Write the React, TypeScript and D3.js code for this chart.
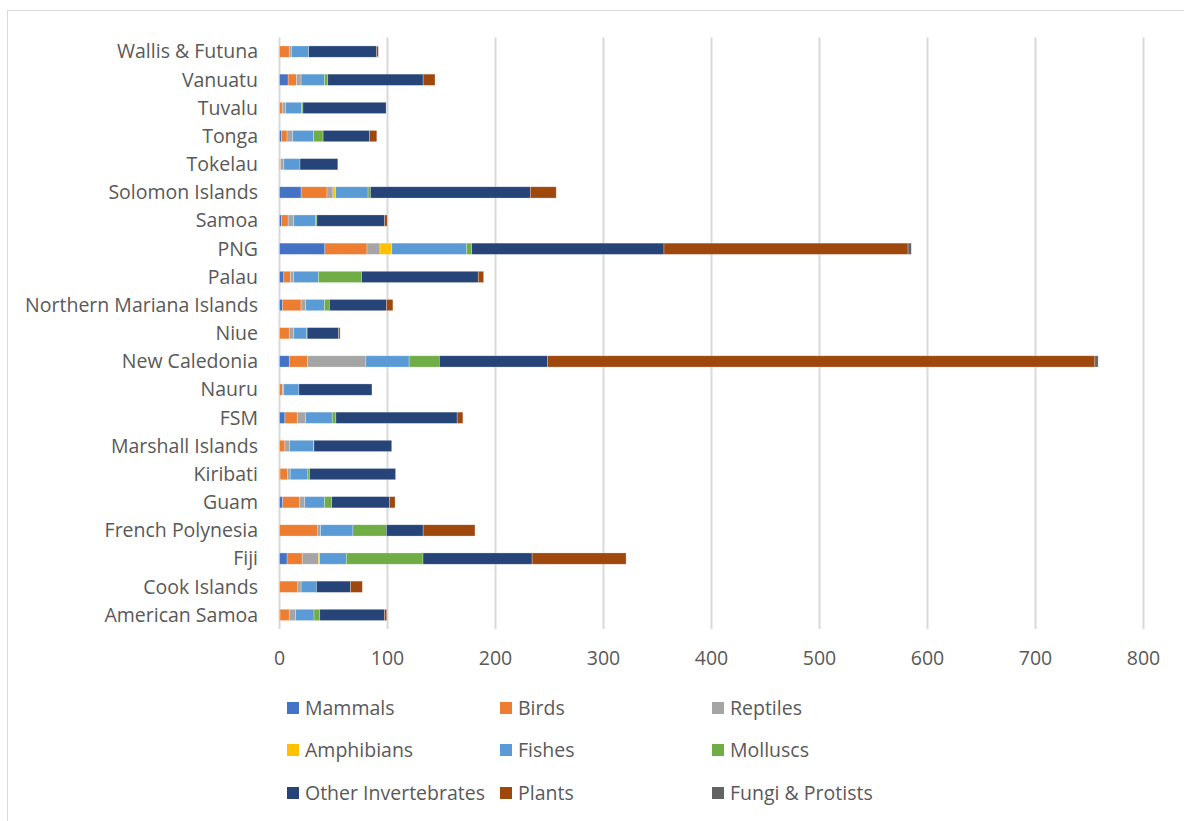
import { useEffect, useRef } from 'react'
import * as d3 from 'd3'

const COUNTRIES = [
  'Wallis & Futuna', 'Vanuatu', 'Tuvalu', 'Tonga', 'Tokelau', 'Solomon Islands', 'Samoa', 'PNG', 'Palau',
  'Northern Mariana Islands', 'Niue', 'New Caledonia', 'Nauru', 'FSM', 'Marshall Islands', 'Kiribati', 'Guam',
  'French Polynesia', 'Fiji', 'Cook Islands', 'American Samoa',
]

const SERIES = ['Mammals', 'Birds', 'Reptiles', 'Amphibians', 'Fishes', 'Molluscs', 'Other Invertebrates', 'Plants', 'Fungi & Protists']
const COLORS = ['#4472C4', '#ED7D31', '#A5A5A5', '#FFC000', '#5B9BD5', '#70AD47', '#264478', '#9E480E', '#636363']

// values per series, same order as COUNTRIES
const MAMMALS = [0, 8, 0, 2, 0, 20, 2, 42, 4, 2.7, 0, 9, 0, 5, 0, 0.5, 3, 0, 7, 0, 0.5]
const BIRDS = [9, 7.7, 2.5, 5, 1, 24, 6, 39, 6, 17.3, 9, 17, 2.7, 11.4, 5, 7, 15.4, 35, 14, 17, 8.5]
const REPTILES = [2, 4.3, 3, 5.3, 3, 5.5, 5.2, 12, 3, 4.3, 4.3, 54, 1.3, 7.7, 4.3, 2.4, 5, 3, 15, 3, 6]
const AMPHIBIANS = [0, 0, 0, 0, 0, 2.5, 0, 11, 0, 0, 0, 0, 0, 0, 0, 0, 0, 0, 1.2, 0, 0]
const FISHES = [16, 21.6, 15, 19.4, 15, 30, 20.4, 69, 23, 17.3, 12, 40, 14, 24.7, 22, 16.4, 18.2, 30, 24.7, 14.2, 17]
const MOLLUSCS = [0, 3.1, 1.2, 8.7, 0, 2.2, 1, 5, 40, 4.6, 0.3, 28, 0, 3.4, 0.6, 1.5, 6.8, 31, 71, 0, 5.3]
const OTHER_INV = [63, 88.3, 77, 42.9, 35, 148, 62.7, 178, 108, 52.8, 29.2, 100, 67.6, 112.3, 72, 79.7, 53.4, 34, 101, 31.5, 60]
const PLANTS = [1.5, 11, 0, 6.8, 0, 24, 2.4, 226, 5, 6, 1.3, 507, 0, 5.3, 0, 0, 5.2, 48, 87, 11, 2]
const FUNGI = [0, 0, 0, 0, 0, 0, 0, 3, 0, 0, 0, 3, 0, 0, 0, 0, 0, 0, 0, 0, 0]

const X_TICKS = [0, 100, 200, 300, 400, 500, 600, 700, 800]

const W = 1184
const H = 821
const FONT = '"Open Sans", "Liberation Sans", sans-serif'
const FS = 19.5

export default function App() {
  const svgRef = useRef<SVGSVGElement>(null)

  useEffect(() => {
    if (!svgRef.current) return
    const svg = d3.select(svgRef.current)
    svg.selectAll('*').remove()

    const left = 279.5, right = 1143.5, top = 37.5, bottom = 629
    const values = [MAMMALS, BIRDS, REPTILES, AMPHIBIANS, FISHES, MOLLUSCS, OTHER_INV, PLANTS, FUNGI]
    const rows = COUNTRIES.map((c, i) => {
      const r: Record<string, number | string> = { country: c }
      SERIES.forEach((s, k) => { r[s] = values[k][i] })
      return r
    })

    const x = d3.scaleLinear().domain([0, 800]).range([left, right])
    const y = d3.scaleBand<string>().domain(COUNTRIES).range([top, bottom]).paddingInner(0.6).paddingOuter(0.3)

    // outer border
    svg.append('rect').attr('x', 7.5).attr('y', 10.5).attr('width', W + 20).attr('height', H + 20)
      .attr('fill', 'white').attr('stroke', '#D9D9D9').attr('stroke-width', 1)

    // gridlines
    svg.append('g').selectAll('line').data(X_TICKS).join('line')
      .attr('x1', d => x(d)).attr('x2', d => x(d)).attr('y1', top).attr('y2', bottom)
      .attr('stroke', '#D9D9D9').attr('stroke-width', 2)

    const stack = d3.stack<Record<string, number | string>>().keys(SERIES)
      .value((d, key) => d[key] as number)
    const layers = stack(rows)

    svg.append('g').selectAll('g').data(layers).join('g')
      .attr('fill', (_, i) => COLORS[i])
      .selectAll('rect').data(d => d).join('rect')
      .attr('x', d => x(d[0]))
      .attr('width', d => Math.max(0, x(d[1]) - x(d[0])))
      .attr('y', d => y(d.data.country as string)!)
      .attr('height', y.bandwidth())
      .attr('stroke', 'white').attr('stroke-opacity', 0.45).attr('stroke-width', 0.6)

    // x tick labels
    svg.append('g').selectAll('text').data(X_TICKS).join('text')
      .attr('x', d => x(d)).attr('y', 665).attr('text-anchor', 'middle')
      .attr('font-family', FONT).attr('font-size', FS).attr('fill', '#595959')
      .text(d => d)

    // category labels
    svg.append('g').selectAll('text').data(COUNTRIES).join('text')
      .attr('x', 258).attr('y', d => y(d)! + y.bandwidth() / 2).attr('dy', '0.35em')
      .attr('text-anchor', 'end')
      .attr('font-family', FONT).attr('font-size', FS).attr('fill', '#595959')
      .text(d => d)

    // legend
    const colX = [287, 500, 712]
    const rowY = [708, 750, 793]
    const lg = svg.append('g').selectAll('g').data(SERIES).join('g')
      .attr('transform', (_, i) => `translate(${colX[i % 3]},${rowY[Math.floor(i / 3)]})`)
    lg.append('rect').attr('x', 0).attr('y', -6).attr('width', 12).attr('height', 12)
      .attr('fill', (_, i) => COLORS[i])
    lg.append('text').attr('x', 18).attr('y', 0).attr('dy', '0.35em')
      .attr('font-family', FONT).attr('font-size', FS).attr('fill', '#595959')
      .text(d => d)
  }, [])

  return (
    <svg ref={svgRef} width={W} height={H}
      style={{ position: 'absolute', left: 0, top: 0, background: 'white' }} />
  )
}
